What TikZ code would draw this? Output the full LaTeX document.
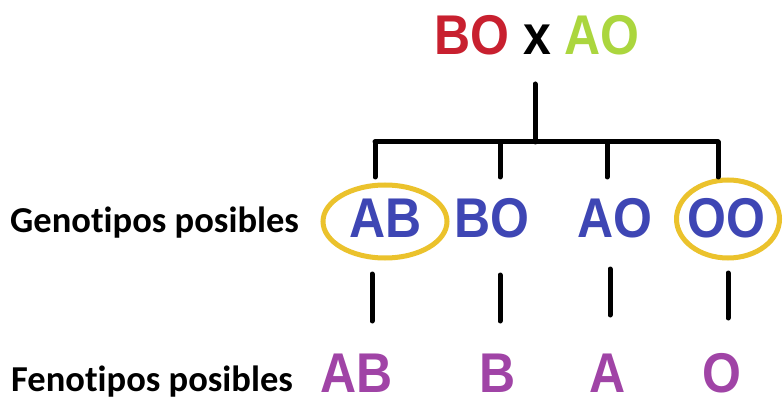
\documentclass[tikz,border=0pt]{standalone}
\usepackage{fontspec}
\setmainfont{Liberation Sans}
\newfontfamily\lblfont[Ligatures=NoCommon]{Carlito}
\usetikzlibrary{shapes.geometric}
\definecolor{cRed}{HTML}{C8202F}
\definecolor{cGreen}{HTML}{ABD63E}
\definecolor{cBlue}{HTML}{3E46B4}
\definecolor{cPurple}{HTML}{A044A6}
\definecolor{cYellow}{HTML}{EBC22C}
\tikzset{
  big/.style={inner sep=0pt, font=\fontsize{50}{60}\selectfont\bfseries, yscale=1.12, transform shape},
  geno/.style={big, text=cBlue},
  pheno/.style={big, text=cPurple},
  lbl/.style={inner sep=0pt, anchor=base west, font=\lblfont\fontsize{36.5}{42}\selectfont\bfseries},
  tree/.style={line width=5pt, line cap=round, black},
  ring/.style={ellipse, draw=cYellow, line width=5pt, inner sep=0pt}
}
\begin{document}
\begin{tikzpicture}[x=1pt,y=-1pt]
\useasboundingbox (0,0) rectangle (783,403);
\fill[white] (0,0) rectangle (783,403);
% title
\node[big] (title) at (537,35) {\textcolor{cRed}{BO} x \textcolor{cGreen}{AO}};
% genotypes
\node[geno] (gAB) at (386,218) {AB};
\node[geno] (gBO) at (492,218) {BO};
\node[geno] (gAO) at (615,218) {AO};
\node[geno] (gOO) at (726,218) {OO};
\node[ring, minimum width=124pt, minimum height=73pt] (rAB) at (385,221.5) {};
\node[ring, minimum width=103pt, minimum height=78pt] (rOO) at (728,219) {};
% phenotypes
\node[pheno] (pAB) at (357,373) {AB};
\node[pheno] (pB) at (498,373) {B};
\node[pheno] (pA) at (608,373) {A};
\node[pheno] (pO) at (722,373) {O};
% labels
\node[lbl] (lg) at (10,233) {Genotipos posibles};
\node[lbl] (lf) at (11,391) {Fenotipos posibles};
% tree coordinates
\coordinate (top) at (535,84);
\coordinate (mid) at (535,142);
\coordinate (hl) at (375,142);
\coordinate (hr) at (718,142);
\coordinate (h2) at (500,142);
\coordinate (h3) at (607,142);
\coordinate (t1) at (375,177);
\coordinate (t2) at (500,177);
\coordinate (t3) at (607,177);
\coordinate (t4) at (718,177);
\draw[tree] (top) -- (mid);
\draw[tree] (hl) -- (hr);
\draw[tree] (hl) -- (t1);
\draw[tree] (h2) -- (t2);
\draw[tree] (h3) -- (t3);
\draw[tree] (hr) -- (t4);
% lower ticks
\coordinate (a1) at (372,274); \coordinate (b1) at (372,321);
\coordinate (a2) at (500,275); \coordinate (b2) at (500,321);
\coordinate (a3) at (610,269); \coordinate (b3) at (610,315);
\coordinate (a4) at (728,273); \coordinate (b4) at (728,318);
\draw[tree] (a1) -- (b1);
\draw[tree] (a2) -- (b2);
\draw[tree] (a3) -- (b3);
\draw[tree] (a4) -- (b4);
\end{tikzpicture}
\end{document}
